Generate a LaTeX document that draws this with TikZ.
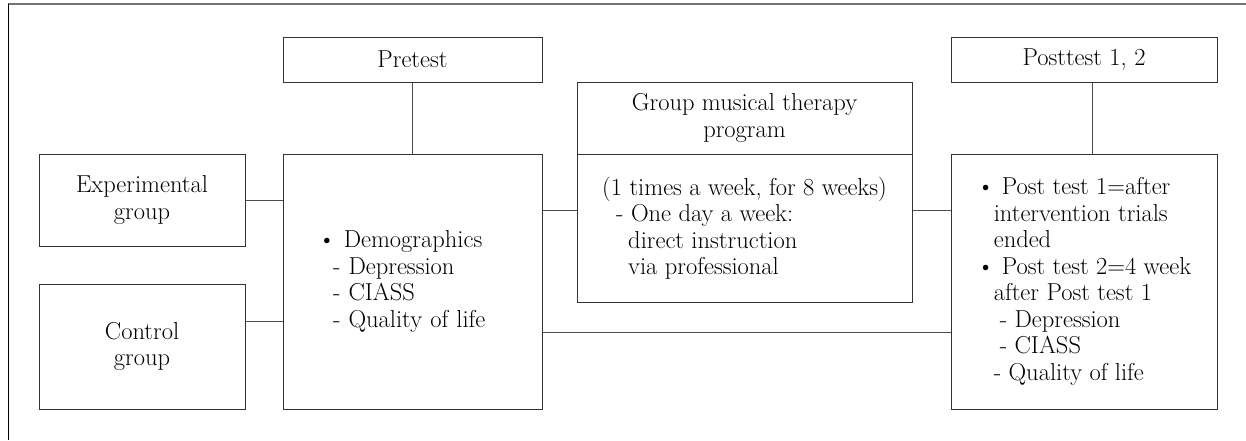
\documentclass[tikz,border=0pt]{standalone}
\usepackage{tikz}

\begin{document}
\begin{tikzpicture}[x=1pt, y=-1pt,
	box/.style = {draw=black!80, line width=1pt, inner sep=0pt},
	link/.style = {draw=black!70, line width=1pt},
	every node/.style = {font=\fontsize{24.5}{26.5}\selectfont}]
	\useasboundingbox (0,0) rectangle (1246,440);
	\draw[black!55, line width=1.2pt] (1246,4) -- (8,4);
	\draw[black, line width=1pt] (8,4) -- (8,440);
	% groups
	\node[box, minimum width=206pt, minimum height=92pt, align=center] (exp) at (142,200) {Experimental\\group};
	\node[box, minimum width=206pt, minimum height=125pt, align=center] (ctrl) at (142,346.5) {Control\\group};
	% pretest
	\node[box, minimum width=259pt, minimum height=45pt] (pre) at (412.5,59.5) {Pretest};
	\node[box, minimum width=259pt, minimum height=255pt, text width=189pt, inner xsep=35pt, align=left] (preb) at (412.5,281.5)
		{\textbullet\ Demographics\\
		 \hspace*{15pt}- Depression\\
		 \hspace*{15pt}- CIASS\\
		 \hspace*{15pt}- Quality of life};
	% program
	\node[box, minimum width=335pt, minimum height=72pt, align=center] (grp) at (744.5,118) {Group musical therapy\\program};
	\node[box, minimum width=335pt, minimum height=148pt, align=left] (grpb) at (744.5,228)
		{(1 times a week, for 8 weeks)\\
		 \hspace*{14pt}- One day a week:\\
		 \hspace*{26pt}direct instruction\\
		 \hspace*{26pt}via professional};
	% posttest
	\node[box, minimum width=266pt, minimum height=45pt] (post) at (1084,59.5) {Posttest 1, 2};
	\node[box, minimum width=266pt, minimum height=255pt, align=left] (postb) at (1084,281.5)
		{\textbullet\ Post test 1=after\\
		 \hspace*{17pt}intervention trials\\
		 \hspace*{17pt}ended\\
		 \textbullet\ Post test 2=4 week\\
		 \hspace*{17pt}after Post test 1\\
		 \hspace*{23pt}- Depression\\
		 \hspace*{23pt}- CIASS\\
		 \hspace*{17pt}- Quality of life};
	% connectors
	\coordinate (c1) at ([yshift=25.5pt]ctrl.east);
	\coordinate (c2) at ([yshift=18pt]grpb.west);
	\coordinate (c3) at ([yshift=-50.5pt]preb.east);
	\coordinate (c4) at ([xshift=8pt]post.south);
	\draw[link] (exp.east) -- (exp.east -| preb.west);
	\draw[link] (c1) -- (c1 -| preb.west);
	\draw[link] (pre) -- (preb);
	\draw[link] (c2 -| preb.east) -- (c2);
	\draw[link] (c3) -- (c3 -| postb.west);
	\draw[link] (c2 -| grpb.east) -- (c2 -| postb.west);
	\draw[link] (c4) -- (c4 |- postb.north);
\end{tikzpicture}
\end{document}
